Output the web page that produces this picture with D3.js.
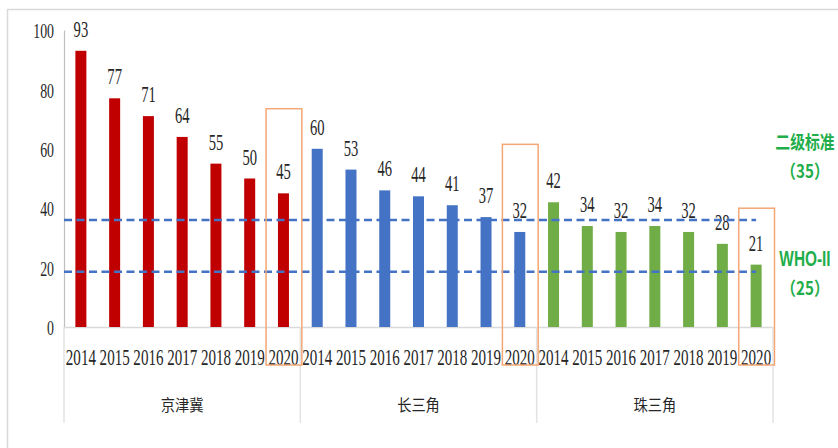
<!DOCTYPE html>
<html><head><meta charset="utf-8">
<script src="https://cdn.jsdelivr.net/npm/d3@7/dist/d3.min.js"></script>
<style>
html,body{margin:0;padding:0;background:#fff;}
svg{display:block;}
</style></head>
<body>
<svg id="chart" width="838" height="448"></svg>
<script>
const groups = ["京津冀", "长三角", "珠三角"];
const years = ["2014", "2015", "2016", "2017", "2018", "2019", "2020"];
const jingjinji = [93, 77, 71, 64, 55, 50, 45];
const changsanjiao = [60, 53, 46, 44, 41, 37, 32];
const zhusanjiao = [42, 34, 32, 34, 32, 28, 21];
const groupColors = ["#c00000", "#4472c4", "#70ad47"];
const yTicks = [0, 20, 40, 60, 80, 100];
const refValues = [36, 18.6];
const refLabels = [["二级标准", "（35）"], ["WHO-II", "（25）"]];
const highlightTops = [73.5, 61.5, 40];

const seriesByGroup = [jingjinji, changsanjiao, zhusanjiao];
const rows = [];
groups.forEach((g, gi) => years.forEach((yr, yi) => rows.push({group: g, gi, year: yr, yi, value: seriesByGroup[gi][yi], idx: gi * years.length + yi})));

const svg = d3.select("#chart");
const serif = "'Liberation Serif','Times New Roman',serif";
const textCol = "#262626";

// frame
svg.append("path").attr("d", "M7.5,448 V9.5 H838").attr("fill", "none").attr("stroke", "#d9d9d9").attr("stroke-width", 1.5);

const x = d3.scaleBand().domain(rows.map(d => d.idx)).range([64, 773]).padding(0);
const y = d3.scaleLinear().domain([0, 100]).range([327, 30]);
const barW = 11;

// Y axis
const yAxis = svg.append("g").attr("transform", "translate(64,0)")
  .call(d3.axisLeft(y).tickValues(yTicks).tickSize(5).tickSizeOuter(0));
yAxis.select(".domain").attr("stroke", "#bfbfbf").attr("stroke-width", 1.2);
yAxis.selectAll(".tick line").attr("stroke", "#999").attr("x1", -5);
yAxis.selectAll(".tick text")
  .attr("x", null).attr("dy", "0.35em")
  .attr("transform", "translate(-10,0) scale(0.63,1)")
  .attr("font-family", serif).attr("font-size", 22).attr("fill", textCol);

// category axis line
const xAxis = svg.append("g").attr("transform", "translate(0,327)")
  .call(d3.axisBottom(x).tickSize(0).tickSizeOuter(0).tickFormat(i => rows[i].year));
xAxis.select(".domain").attr("stroke", "#d9d9d9").attr("stroke-width", 1.5);
xAxis.selectAll(".tick text")
  .attr("y", null).attr("dy", null)
  .attr("transform", "translate(0,38) scale(0.64,1)")
  .attr("font-family", serif).attr("font-size", 23.5).attr("fill", textCol);

// group separators
const groupBounds = groups.map((g, gi) => [x(gi * years.length), x(gi * years.length + years.length - 1) + x.bandwidth()]);
const sepXs = [groupBounds[0][0], ...groupBounds.map(b => b[1])];
svg.append("g").selectAll("line").data(sepXs).join("line")
  .attr("x1", d => d).attr("x2", d => d).attr("y1", 327).attr("y2", 423)
  .attr("stroke", "#e3e3e3").attr("stroke-width", 1.5);

// group labels
svg.append("g").selectAll("text").data(groups).join("text")
  .attr("transform", (d, i) => `translate(${(groupBounds[i][0] + groupBounds[i][1]) / 2},404) scale(0.95,1.05)`)
  .attr("text-anchor", "middle").attr("dominant-baseline", "central")
  .attr("font-family", "'Noto Sans CJK SC',sans-serif").attr("font-size", 15).attr("fill", textCol)
  .text(d => d);

// bars
svg.append("g").selectAll("rect").data(rows).join("rect")
  .attr("x", d => x(d.idx) + x.bandwidth() / 2 - barW / 2)
  .attr("width", barW)
  .attr("y", d => y(d.value))
  .attr("height", d => y(0) - y(d.value))
  .attr("fill", d => groupColors[d.gi]);

// value labels
svg.append("g").selectAll("text").data(rows).join("text")
  .attr("transform", d => `translate(${x(d.idx) + x.bandwidth() / 2},${y(d.value) - 14}) scale(0.62,1)`)
  .attr("text-anchor", "middle")
  .attr("font-family", serif).attr("font-size", 23.5).attr("fill", textCol)
  .text(d => d.value);

// reference dashed lines
const lastCenter = x(rows.length - 1) + x.bandwidth() / 2;
svg.append("g").selectAll("line").data(refValues).join("line")
  .attr("x1", 64).attr("x2", lastCenter)
  .attr("y1", d => y(d)).attr("y2", d => y(d))
  .attr("stroke", "#4472c4").attr("stroke-width", 2.5).attr("stroke-dasharray", "8,4.5");

// highlight boxes around 2020
svg.append("g").selectAll("rect").data(highlightTops).join("rect")
  .attr("x", (d, i) => x(i * years.length + years.length - 1) - 0.5)
  .attr("width", x.bandwidth() + 2)
  .attr("y", d => y(d))
  .attr("height", d => 365 - y(d))
  .attr("fill", "none").attr("stroke", "#f4a774").attr("stroke-width", 1.5);

// reference labels
const legendG = svg.append("g");
const legendY = [[141, 170], [258, 287]];
refLabels.forEach((lab, i) => {
  legendG.append("text")
    .attr("transform", `translate(805,${legendY[i][0]}) scale(${i === 0 ? 0.85 : 0.7},${i === 0 ? 1.05 : 1})`)
    .attr("text-anchor", "middle").attr("dominant-baseline", "central")
    .attr("font-family", i === 0 ? "'Noto Sans CJK SC',sans-serif" : "'Liberation Sans',Arial,sans-serif")
    .attr("font-weight", "bold").attr("font-size", i === 0 ? 17.5 : 22).attr("fill", "#1fae4b")
    .text(lab[0]);
  legendG.append("text")
    .attr("transform", `translate(805,${legendY[i][1]}) scale(0.87,1.05)`)
    .attr("text-anchor", "middle").attr("dominant-baseline", "central")
    .attr("font-family", "'Noto Sans CJK SC',sans-serif")
    .attr("font-weight", "bold").attr("font-size", 17.5).attr("fill", "#1fae4b")
    .text(lab[1]);
});
</script>
</body></html>
